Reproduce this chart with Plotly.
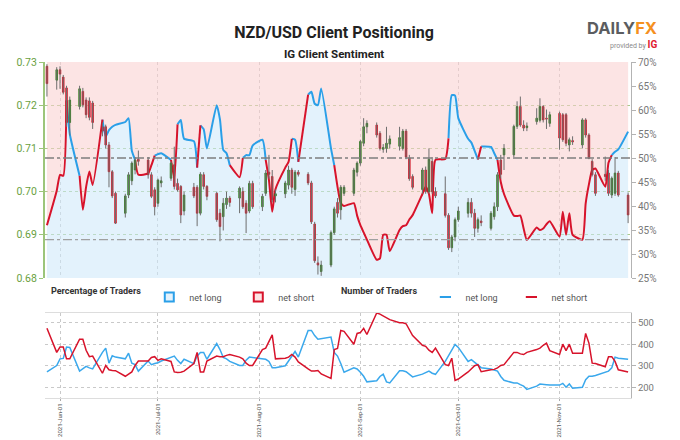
import plotly.graph_objects as go

# ---------------- data ----------------
DATES = [
    "2021-05-28", "2021-05-31", "2021-06-01", "2021-06-02", "2021-06-03", "2021-06-04",
    "2021-06-07", "2021-06-08", "2021-06-09", "2021-06-10", "2021-06-11",
    "2021-06-14", "2021-06-15", "2021-06-16", "2021-06-17", "2021-06-18",
    "2021-06-21", "2021-06-22", "2021-06-23", "2021-06-24", "2021-06-25",
    "2021-06-28", "2021-06-29", "2021-06-30", "2021-07-01", "2021-07-02",
    "2021-07-05", "2021-07-06", "2021-07-07", "2021-07-08", "2021-07-09",
    "2021-07-12", "2021-07-13", "2021-07-14", "2021-07-15", "2021-07-16",
    "2021-07-19", "2021-07-20", "2021-07-21", "2021-07-22", "2021-07-23",
    "2021-07-26", "2021-07-27", "2021-07-28", "2021-07-29", "2021-07-30",
    "2021-08-02", "2021-08-03", "2021-08-04", "2021-08-05", "2021-08-06",
    "2021-08-09", "2021-08-10", "2021-08-11", "2021-08-12", "2021-08-13",
    "2021-08-16", "2021-08-17", "2021-08-18", "2021-08-19", "2021-08-20",
    "2021-08-23", "2021-08-24", "2021-08-25", "2021-08-26", "2021-08-27",
    "2021-08-30", "2021-08-31", "2021-09-01", "2021-09-02", "2021-09-03",
    "2021-09-06", "2021-09-07", "2021-09-08", "2021-09-09", "2021-09-10",
    "2021-09-13", "2021-09-14", "2021-09-15", "2021-09-16", "2021-09-17",
    "2021-09-20", "2021-09-21", "2021-09-22", "2021-09-23", "2021-09-24",
    "2021-09-27", "2021-09-28", "2021-09-29", "2021-09-30", "2021-10-01",
    "2021-10-04", "2021-10-05", "2021-10-06", "2021-10-07", "2021-10-08",
    "2021-10-11", "2021-10-12", "2021-10-13", "2021-10-14", "2021-10-15",
    "2021-10-18", "2021-10-19", "2021-10-20", "2021-10-21", "2021-10-22",
    "2021-10-25", "2021-10-26", "2021-10-27", "2021-10-28", "2021-10-29",
    "2021-11-01", "2021-11-02", "2021-11-03", "2021-11-04", "2021-11-05",
    "2021-11-08", "2021-11-09", "2021-11-10", "2021-11-11", "2021-11-12",
    "2021-11-15", "2021-11-16", "2021-11-17", "2021-11-18", "2021-11-19",
    "2021-11-22",
]

OPEN = [
    .7290, .7258, .7282, .7265, .7240, .7160,
    .7197, .7232, .7212, .7210, .7205,
    .7150, .7150, .7108, .7046, .6996,
    .6950, .6992, .7025, .7050, .7075,
    .7073, .7039, .7004, .6973, .7020,
    .7031, .7062, .7019, .7012, .6955,
    .7010, .7010, .6950, .7039, .7012,
    .6996, .6950, .6942, .6970, .6985,
    .6985, .7000, .6973, .6955, .7019,
    .6965, .6996, .7045, .7035, .6990,
    .6995, .7015, .7050, .7005, .7045,
    .7040, .7020, .6925, .6835, .6815,
    .6830, .6905, .6975, .6958, .6996,
    .6996, .7045, .7066, .7112, .7150,
    .7154, .7135, .7098, .7100, .7110,
    .7105, .7100, .7140, .7078, .7035,
    .7005, .7050, .7000, .7070, .7000,
    .6995, .6945, .6870, .6895, .6935,
    .6950, .6975, .6950, .6915, .6932,
    .6915, .6942, .6965, .7073, .7085,
    .7085, .7151, .7197, .7154, .7148,
    .7162, .7165, .7197, .7170, .7158,
    .7181, .7178, .7178, .7108, .7118,
    .7108, .7166, .7131, .7070, .7039,
    .7040, .7043, .6992, .6996, .7043,
    .6992,
]
HIGH = [
    .7295, .7288, .7290, .7270, .7245, .7220,
    .7245, .7240, .7218, .7218, .7210,
    .7160, .7155, .7115, .7050, .7000,
    .6995, .7045, .7070, .7080, .7095,
    .7080, .7045, .7010, .7030, .7035,
    .7070, .7104, .7030, .7015, .7000,
    .7020, .7015, .7045, .7045, .7015,
    .7000, .6960, .6985, .7000, .6990,
    .7012, .7010, .6980, .7025, .7025,
    .6995, .7050, .7085, .7050, .7005,
    .7025, .7060, .7055, .7050, .7050,
    .7045, .7025, .6930, .6850, .6840,
    .6910, .6965, .6985, .7015, .7015,
    .7055, .7070, .7120, .7170, .7165,
    .7160, .7140, .7110, .7150, .7130,
    .7150, .7145, .7145, .7085, .7040,
    .7055, .7058, .7100, .7080, .7010,
    .7035, .6950, .6900, .6940, .6965,
    .6985, .6985, .6960, .6940, .6945,
    .6955, .6975, .7045, .7085, .7110,
    .7155, .7209, .7220, .7165, .7160,
    .7193, .7216, .7200, .7190, .7185,
    .7185, .7182, .7182, .7125, .7128,
    .7170, .7170, .7135, .7075, .7045,
    .7081, .7050, .7035, .7080, .7048,
    .6998,
]
LOW = [
    .7220, .7236, .7238, .7225, .7150, .7130,
    .7190, .7195, .7170, .7165, .7145,
    .7128, .7100, .7010, .6985, .6925,
    .6940, .6985, .7015, .7040, .7060,
    .7030, .6985, .6945, .6965, .7010,
    .7025, .7005, .7000, .6927, .6945,
    .6985, .6920, .6945, .7005, .6980,
    .6930, .6885, .6910, .6960, .6965,
    .6950, .6960, .6904, .6950, .6960,
    .6955, .6990, .7030, .6975, .6975,
    .6985, .7005, .6995, .6990, .7035,
    .7015, .6925, .6835, .6808, .6805,
    .6825, .6900, .6940, .6935, .6990,
    .6990, .7035, .7060, .7105, .7135,
    .7125, .7095, .7090, .7090, .7100,
    .7095, .7095, .7075, .7025, .7005,
    .6995, .6995, .6995, .6995, .6985,
    .6940, .6865, .6860, .6885, .6930,
    .6940, .6940, .6895, .6905, .6920,
    .6910, .6935, .6955, .7030, .7050,
    .7080, .7145, .7150, .7140, .7140,
    .7155, .7160, .7160, .7145, .7150,
    .7097, .7115, .7105, .7093, .7108,
    .7100, .7125, .7075, .7035, .6990,
    .7025, .6990, .6985, .6990, .6988,
    .6927,
]
CLOSE = [
    .7250, .7282, .7272, .7230, .7160, .7212,
    .7238, .7201, .7178, .7172, .7160,
    .7140, .7108, .7046, .6990, .6927,
    .6990, .7039, .7066, .7073, .7070,
    .7039, .6989, .6965, .7027, .7025,
    .7066, .7012, .7004, .6946, .6992,
    .6990, .6950, .7040, .7012, .6989,
    .6935, .6919, .6973, .6985, .6975,
    .7008, .6965, .6950, .7019, .6965,
    .6989, .7043, .7040, .6981, .6995,
    .7020, .7050, .7010, .7045, .7040,
    .7020, .6930, .6840, .6830, .6830,
    .6905, .6960, .6950, .7010, .7010,
    .7050, .7066, .7116, .7150, .7158,
    .7131, .7100, .7102, .7112, .7122,
    .7125, .7140, .7080, .7030, .7010,
    .7050, .7000, .7075, .7000, .6990,
    .6945, .6870, .6895, .6935, .6955,
    .6975, .6950, .6915, .6935, .6928,
    .6950, .6965, .7039, .7040, .7100,
    .7151, .7197, .7154, .7147, .7152,
    .7170, .7197, .7166, .7168, .7178,
    .7124, .7120, .7112, .7120, .7115,
    .7166, .7131, .7077, .7039, .6996,
    .7035, .6996, .7031, .7043, .6992,
    .6946,
]

# percentage of traders net long (right axis, %)
NET_LONG_PCT = [
    36.0, 43.2, 46.5, 46.3, 62.0, 55.0,
    46.3, 39.2, 44.0, 47.2, 44.4,
    58.0, 54.5, 55.8, 56.5, 56.9,
    57.5, 58.3, 51.5, 49.6, 46.5,
    46.8, 48.5, 50.5, 50.8, 51.0,
    49.6, 45.8, 57.0, 57.9, 54.0,
    53.5, 48.0, 56.8, 56.0, 52.0,
    61.0, 58.0, 51.7, 51.0, 48.5,
    46.0, 50.0, 50.6, 50.6, 52.6,
    53.8, 49.6, 45.4, 38.8, 43.5,
    48.0, 49.2, 54.0, 53.8, 49.2,
    63.2, 63.8, 61.3, 61.0, 64.5,
    52.0, 48.5, 44.0, 40.6, 40.0,
    40.6, 38.0, 36.0, 34.5, 33.0,
    28.8, 29.1, 34.0, 34.0, 30.6,
    35.0, 35.8, 36.0, 37.2, 38.1,
    42.5, 44.0, 42.5, 38.5, 49.6,
    49.8, 54.1, 63.1, 63.0, 58.3,
    54.0, 53.2, 51.5, 49.7, 52.4,
    52.3, 51.0, 49.6, 45.0, 42.5,
    38.0, 37.9, 38.0, 35.3, 32.9,
    35.5, 35.0, 35.3, 36.2, 36.8,
    33.6, 38.8, 34.0, 38.5, 34.0,
    33.0, 40.5, 44.5, 47.5, 47.8,
    44.0, 49.0, 50.6, 51.3, 51.8,
    55.5,
]

# number of traders (bottom panel)
LONG_COUNT = [
    271, 301, 332, 334, 387, 385,
    275, 285, 297, 290, 285,
    362, 382, 312, 346, 340,
    332, 358, 312, 305, 275,
    322, 305, 310, 314, 322,
    340, 345, 325, 310, 330,
    310, 345, 362, 362, 330,
    403, 375, 338, 332, 320,
    301, 301, 326, 340, 338,
    335, 330, 320, 291, 291,
    300, 322, 345, 366, 340,
    464, 464, 440, 423, 425,
    433, 362, 345, 310, 270,
    290, 285, 270, 251, 225,
    230, 250, 261, 225, 220,
    277, 277, 272, 261, 248,
    261, 270, 275, 265, 260,
    320, 345, 375, 399, 385,
    320, 328, 315, 301, 291,
    285, 280, 275, 250, 232,
    220, 220, 212, 205, 190,
    205, 215, 212, 212, 210,
    210, 218, 200, 215, 195,
    200, 235, 251, 251, 255,
    271, 275, 290, 340, 335,
    330,
]
SHORT_COUNT = [
    474, 362, 387, 387, 332, 332,
    423, 423, 372, 342, 345,
    265, 301, 281, 278, 277,
    251, 261, 271, 301, 322,
    322, 338, 342, 325, 332,
    320, 271, 268, 270, 275,
    310, 362, 271, 271, 322,
    345, 342, 342, 348, 352,
    340, 332, 312, 301, 301,
    375, 382, 410, 443, 332,
    335, 340, 352, 340, 318,
    285, 275, 275, 278, 262,
    241, 375, 380, 464, 460,
    400, 450, 454, 474, 445,
    545, 540, 530, 520, 514,
    500, 500, 495, 470, 440,
    395, 390, 372, 362, 382,
    305, 301, 335, 232, 238,
    271, 285, 300, 305, 272,
    281, 283, 290, 301, 305,
    362, 362, 355, 352, 362,
    375, 382, 395, 405, 370,
    352, 400, 370, 400, 358,
    358, 450, 405, 312, 310,
    295, 342, 342, 320, 281,
    271,
]

PRICE_TICKS = [0.68, 0.69, 0.70, 0.71, 0.72, 0.73]
PCT_TICKS = [25, 30, 35, 40, 45, 50, 55, 60, 65, 70]
COUNT_TICKS = [200, 300, 400, 500]
NEUTRAL_PCT = 50          # 50% level (colour switch and dash-dot line)
LOWER_REF_PCT = 33        # lower dash-dot reference level
PRICE_RANGE = [0.68, 0.73]
PCT_RANGE = [25, 70]
COUNT_RANGE = [150, 545]
X_RANGE = ["2021-05-27 09:45", "2021-11-22 21:20"]

# ---------------- styling ----------------
BLUE = "#2a9fe8"
RED = "#d7132b"
CANDLE_UP = "#2f7a1c"
CANDLE_DN = "#cf1424"
WICK = "#6e6e6e"
FONT = "Roboto, sans-serif"

fig = go.Figure()

# area below the net-long line (blue) and above it (pink)
fig.add_trace(go.Scatter(
    x=DATES, y=NET_LONG_PCT, xaxis="x", yaxis="y", mode="lines",
    line=dict(width=0, shape="spline", smoothing=0.5),
    fill="tozeroy", fillcolor="rgba(204,231,250,0.55)",
    hoverinfo="skip", showlegend=False))
fig.add_trace(go.Scatter(
    x=DATES, y=[PCT_RANGE[1]] * len(DATES), xaxis="x", yaxis="y", mode="lines",
    line=dict(width=0), fill="tonexty", fillcolor="rgba(250,206,206,0.55)",
    hoverinfo="skip", showlegend=False))

# net-long % line, coloured by the side of 50% each segment starts on
bx, by, rx, ry = [], [], [], []
prev = None
for i in range(len(DATES) - 1):
    side = "b" if NET_LONG_PCT[i] >= NEUTRAL_PCT else "r"
    xs, ys = (bx, by) if side == "b" else (rx, ry)
    if side != prev:
        if xs:
            xs.append(None)
            ys.append(None)
        xs.append(DATES[i])
        ys.append(NET_LONG_PCT[i])
    xs.append(DATES[i + 1])
    ys.append(NET_LONG_PCT[i + 1])
    prev = side
fig.add_trace(go.Scatter(x=bx, y=by, xaxis="x", yaxis="y", mode="lines",
                         line=dict(color=BLUE, width=2, shape="spline", smoothing=0.5),
                         showlegend=False, hoverinfo="skip"))
fig.add_trace(go.Scatter(x=rx, y=ry, xaxis="x", yaxis="y", mode="lines",
                         line=dict(color=RED, width=2, shape="spline", smoothing=0.5),
                         showlegend=False, hoverinfo="skip"))

# candle wicks (grey) and bodies (coloured), on the price axis
wx, wy = [], []
for d, h, l in zip(DATES, HIGH, LOW):
    wx += [d, d, None]
    wy += [l, h, None]
fig.add_trace(go.Scatter(x=wx, y=wy, xaxis="x", yaxis="y2", mode="lines",
                         line=dict(color=WICK, width=1), showlegend=False, hoverinfo="skip"))
fig.add_trace(go.Candlestick(
    x=DATES, open=OPEN, close=CLOSE,
    high=[max(o, c) for o, c in zip(OPEN, CLOSE)],
    low=[min(o, c) for o, c in zip(OPEN, CLOSE)],
    xaxis="x", yaxis="y2", whiskerwidth=0,
    increasing=dict(line=dict(color=CANDLE_UP, width=0.8), fillcolor=CANDLE_UP),
    decreasing=dict(line=dict(color=CANDLE_DN, width=0.8), fillcolor=CANDLE_DN),
    showlegend=False, hoverinfo="skip"))

# bottom panel: number of traders
fig.add_trace(go.Scatter(x=DATES, y=LONG_COUNT, xaxis="x2", yaxis="y3", mode="lines",
                         line=dict(color="#3aa8ec", width=1.5), showlegend=False))
fig.add_trace(go.Scatter(x=DATES, y=SHORT_COUNT, xaxis="x2", yaxis="y3", mode="lines",
                         line=dict(color=RED, width=1.5), showlegend=False))

# legend entries
fig.add_trace(go.Scatter(x=[None], y=[None], mode="markers", name="net long", legend="legend",
                         marker=dict(symbol="square", size=9, color="#e4f2fc",
                                     line=dict(color=BLUE, width=2))))
fig.add_trace(go.Scatter(x=[None], y=[None], mode="markers", name="net short", legend="legend",
                         marker=dict(symbol="square", size=9, color="#fde4e4",
                                     line=dict(color=RED, width=2))))
fig.add_trace(go.Scatter(x=[None], y=[None], mode="markers", name="net long", legend="legend2",
                         marker=dict(symbol="line-ew", size=8, line=dict(color=BLUE, width=2))))
fig.add_trace(go.Scatter(x=[None], y=[None], mode="markers", name="net short", legend="legend2",
                         marker=dict(symbol="line-ew", size=8, line=dict(color=RED, width=2))))

L, R, T, B = 45, 49, 62, 42
W, H = 680, 440
PH = H - T - B
PW = W - L - R


def px_x(px):
    return (px - L) / PW


def px_y(py):
    return (H - B - py) / PH


MAIN_DOMAIN = [px_y(278), 1]
LOW_DOMAIN = [0, px_y(313)]

fig.update_layout(
    width=W, height=H,
    margin=dict(l=L, r=R, t=T, b=B, autoexpand=False),
    paper_bgcolor="white", plot_bgcolor="white",
    font=dict(family=FONT, size=10, color="#555"),
    title=dict(text="<b>NZD/USD Client Positioning</b>", x=334 / W, xanchor="center",
               y=1 - 32 / H, yanchor="middle",
               font=dict(family=FONT, size=16, color="#222")),
    xaxis=dict(domain=[0, 1], anchor="y", type="date", range=X_RANGE, automargin=False,
               showticklabels=False, ticks="", dtick="M1", tick0="2021-06-01",
               showgrid=True, gridcolor="#c9c9c9", griddash="dot", gridwidth=1,
               zeroline=False, showline=False, rangeslider=dict(visible=False)),
    yaxis=dict(domain=MAIN_DOMAIN, anchor="x", side="right", range=PCT_RANGE,
               automargin=False,
               tickvals=PCT_TICKS, ticktext=[f"{v}%" for v in PCT_TICKS],
               showgrid=False, zeroline=False,
               showline=True, linecolor="#b3b3b3", linewidth=1, ticks="outside",
               ticklen=4, tickcolor="#b3b3b3",
               tickfont=dict(family=FONT, size=10, color="#777")),
    yaxis2=dict(overlaying="y", anchor="x", side="left", range=PRICE_RANGE,
                automargin=False,
                tickvals=PRICE_TICKS, tickformat=".2f", showgrid=True,
                gridcolor="#a9c98a", griddash="dot", gridwidth=1, zeroline=False,
                showline=True, linecolor="#9cc57a", linewidth=2, ticks="outside",
                ticklen=4, tickcolor="#9cc57a",
                tickfont=dict(family=FONT, size=10.5, color="#6a9f3e")),
    yaxis4=dict(overlaying="y", anchor="x", side="right", range=PCT_RANGE,
                automargin=False,
                tick0=0, dtick=10, showgrid=True, gridcolor="#bdbdbd", griddash="dot",
                showticklabels=False, ticks="", showline=False, zeroline=False),
    xaxis2=dict(domain=[0, 1], anchor="y3", matches="x", type="date", automargin=False,
                dtick="M1", tick0="2021-06-01", tickformat="%Y-%b-%d", tickangle=-90,
                tickfont=dict(family=FONT, size=6.0, color="#555"),
                ticks="outside", ticklen=2, tickcolor="#aaa",
                showgrid=True, gridcolor="#c9c9c9", griddash="dot",
                showline=True, linecolor="#dddddd", mirror=True, zeroline=False),
    yaxis3=dict(domain=LOW_DOMAIN, anchor="x2", side="right", range=COUNT_RANGE,
                automargin=False,
                tickvals=COUNT_TICKS, showgrid=True, gridcolor="#c9c9c9", griddash="dot",
                zeroline=False, showline=True, linecolor="#b3b3b3", ticks="outside",
                ticklen=4, tickcolor="#b3b3b3",
                tickfont=dict(family=FONT, size=9.5, color="#777")),
    legend=dict(orientation="h", x=px_x(49), y=px_y(297), xanchor="left", yanchor="middle",
                traceorder="normal",
                title=dict(text="<b>Percentage of Traders</b>", side="left",
                           font=dict(family=FONT, size=9, color="#333")),
                font=dict(family=FONT, size=9, color="#555"),
                bgcolor="rgba(0,0,0,0)", itemwidth=30, entrywidth=44),
    legend2=dict(orientation="h", x=px_x(339), y=px_y(297), xanchor="left", yanchor="middle",
                 traceorder="normal",
                 title=dict(text="<b>Number of Traders</b>", side="left",
                            font=dict(family=FONT, size=9, color="#333")),
                 font=dict(family=FONT, size=9, color="#555"),
                 bgcolor="rgba(0,0,0,0)", itemwidth=30, entrywidth=41),
    shapes=[
        dict(type="line", xref="x domain", x0=0, x1=1, yref="y",
             y0=NEUTRAL_PCT, y1=NEUTRAL_PCT, layer="above",
             line=dict(color="#7d7d7d", width=1.5, dash="dashdot")),
        dict(type="line", xref="x domain", x0=0, x1=1, yref="y",
             y0=LOWER_REF_PCT, y1=LOWER_REF_PCT, layer="above",
             line=dict(color="#a0a0a0", width=1.3, dash="dashdot")),
    ],
    annotations=[
        dict(text="<b>IG Client Sentiment</b>", xref="paper", yref="paper",
             x=px_x(334), y=px_y(54), xanchor="center", yanchor="middle", showarrow=False,
             font=dict(family=FONT, size=11.5, color="#222")),
        dict(text="<b><span style='color:#5b5d60'>DAILY</span>"
                  "<span style='color:#f5901e'>FX</span></b>",
             xref="paper", yref="paper", x=px_x(622), y=px_y(28), xanchor="center",
             yanchor="middle", showarrow=False,
             font=dict(family="Inter, Roboto, sans-serif", size=16.5)),
        dict(text="<span style='color:#8a8a8a;font-size:7px'>provided by </span>"
                  "<b><span style='color:#e0202e;font-size:10px'>IG</span></b>",
             xref="paper", yref="paper", x=px_x(659), y=px_y(44.5), xanchor="right",
             yanchor="middle", showarrow=False,
             font=dict(family="Roboto, sans-serif", size=7)),
    ],
)

fig.write_html("out.html")
